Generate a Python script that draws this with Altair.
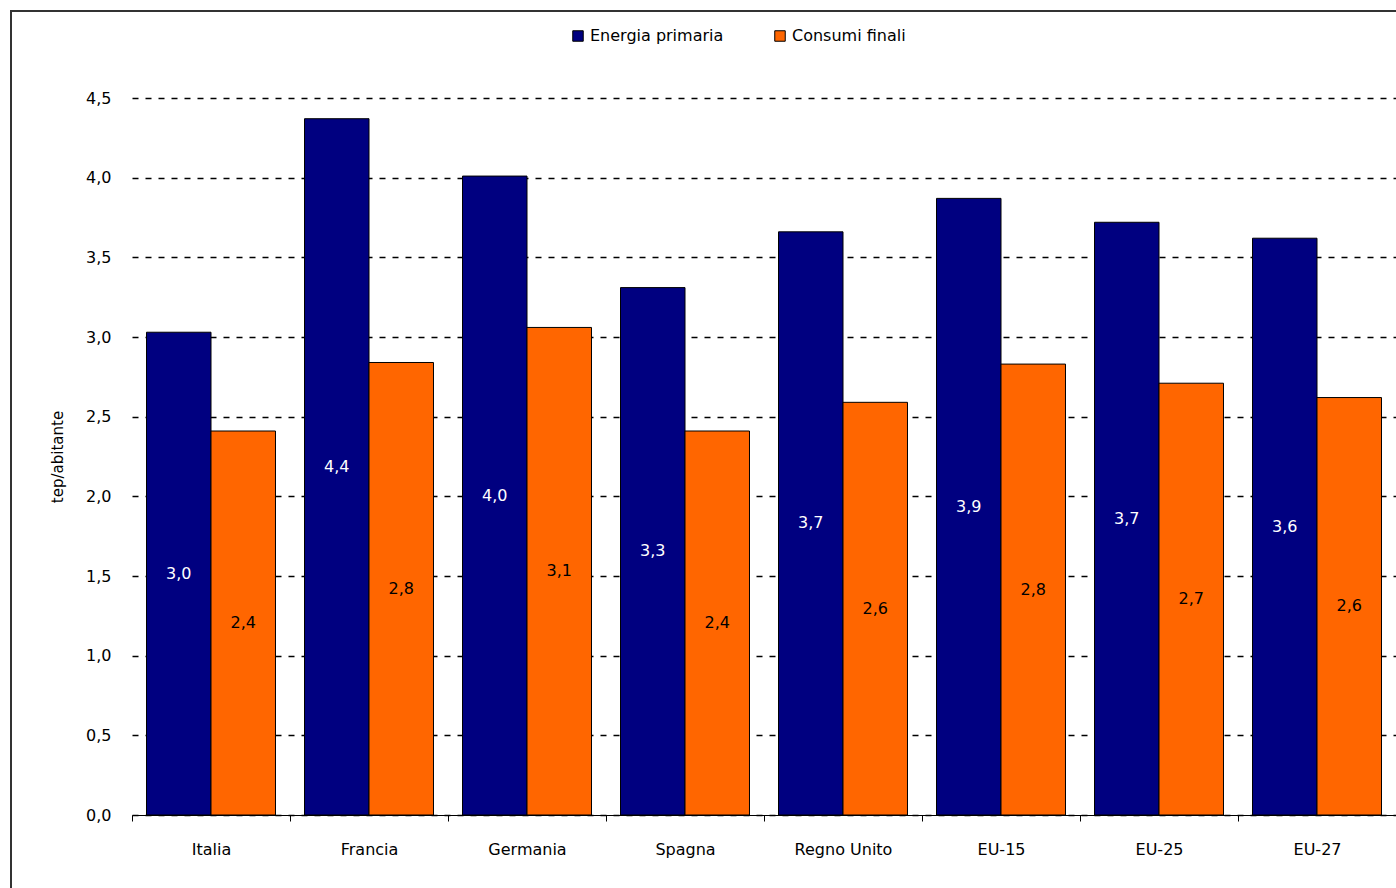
import altair as alt
import pandas as pd

paesi = ["Italia", "Francia", "Germania", "Spagna", "Regno Unito", "EU-15", "EU-25", "EU-27"]
serie = ["Energia primaria", "Consumi finali"]
primaria = [3.03, 4.37, 4.01, 3.31, 3.66, 3.87, 3.72, 3.62]
finali = [2.41, 2.84, 3.06, 2.41, 2.59, 2.83, 2.71, 2.62]
y_ticks = [0, 0.5, 1.0, 1.5, 2.0, 2.5, 3.0, 3.5, 4.0, 4.5]
colori = ["#000080", "#FF6600"]

rows = []
for p, a, b in zip(paesi, primaria, finali):
    rows.append({"paese": p, "serie": serie[0], "valore": a})
    rows.append({"paese": p, "serie": serie[1], "valore": b})
df = pd.DataFrame(rows)

W, H = 1264, 717
FONT = "DejaVu Sans"
fmt = "replace(format(datum.value, '.1f'), '.', ',')"

x = alt.X(
    "paese:N", sort=paesi,
    scale=alt.Scale(paddingInner=0, paddingOuter=0),
    axis=alt.Axis(title=None, tickBand="extent", labelAngle=0, grid=False,
                  domainColor="black", tickColor="black", tickSize=6,
                  labelPadding=20, labelFontSize=16, labelFont=FONT,
                  labelColor="black"),
)
xo = alt.XOffset("serie:N", sort=serie, scale=alt.Scale(paddingInner=0, paddingOuter=0.225))

y_scale = alt.Scale(domain=[0, 4.5], nice=False)
y_axis = alt.Axis(title="tep/abitante", values=y_ticks, labelExpr=fmt,
                  grid=True, gridDash=[6, 7], gridColor="black", gridWidth=1.5,
                  domain=False, ticks=False, labelPadding=21,
                  labelFontSize=16, labelFont=FONT, labelColor="black",
                  titleFont=FONT, titleFontSize=15, titleFontWeight="normal",
                  titleColor="black", titlePadding=20)

base = alt.Chart(df).encode(x=x, xOffset=xo)

bars = base.mark_bar(stroke="black", strokeWidth=1).encode(
    y=alt.Y("valore:Q", scale=y_scale, axis=y_axis),
    color=alt.Color("serie:N", sort=serie,
                    scale=alt.Scale(domain=serie, range=colori),
                    legend=alt.Legend(orient="none", legendX=438, legendY=-70,
                                      direction="horizontal", title=None,
                                      symbolType="square", symbolSize=110,
                                      symbolStrokeColor="black", symbolStrokeWidth=1,
                                      labelFontSize=16, labelFont=FONT,
                                      labelColor="black", columnPadding=48)),
)

text = base.transform_calculate(
    mid="datum.valore / 2",
    lab="replace(format(datum.valore, '.1f'), '.', ',')",
).mark_text(fontSize=16, font=FONT).encode(
    y=alt.Y("mid:Q", scale=y_scale, axis=y_axis),
    text="lab:N",
    color=alt.condition(alt.datum.serie == "Energia primaria", alt.value("white"), alt.value("black")),
)

frame = alt.Chart(pd.DataFrame({"a": [0]})).mark_rect(
    fillOpacity=0, stroke="#333333", strokeWidth=2, clip=False
).encode(x=alt.value(-121), x2=alt.value(W + 40), y=alt.value(-87), y2=alt.value(H + 120))

chart = alt.layer(frame, bars, text).properties(
    width=W, height=H,
    autosize=alt.AutoSizeParams(type="none"),
    padding={"left": 132, "top": 98, "right": 0, "bottom": 73},
).configure_view(strokeWidth=0)

chart.save("out.html", embed_options={"renderer": "svg", "actions": False})
